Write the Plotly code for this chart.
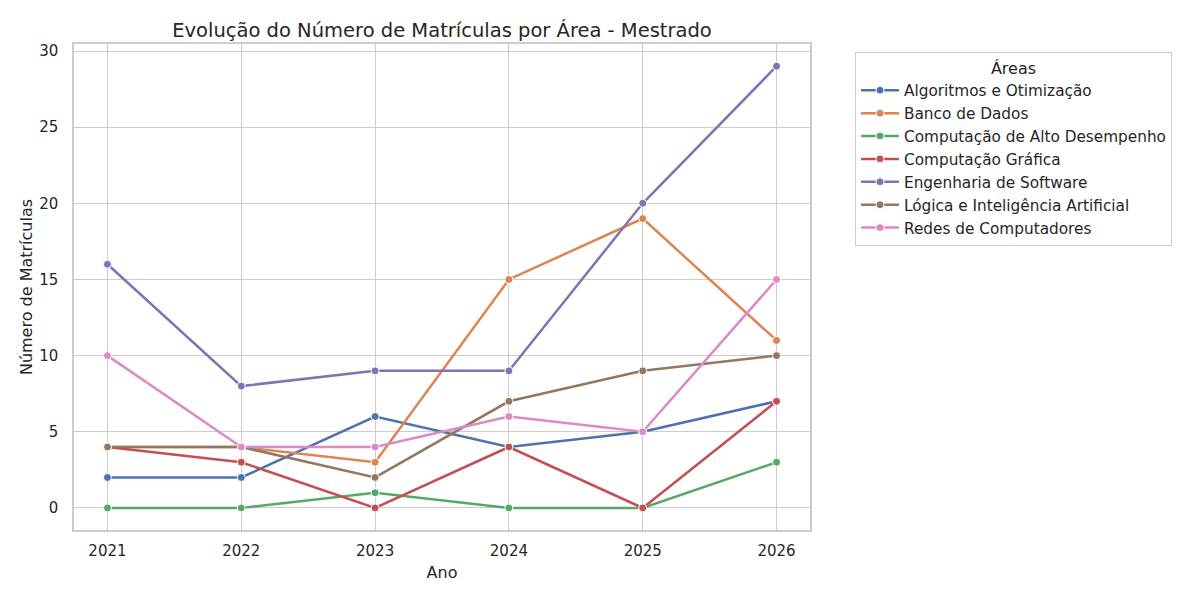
import plotly.graph_objects as go

anos = [2021, 2022, 2023, 2024, 2025, 2026]

areas = [
    "Algoritmos e Otimização",
    "Banco de Dados",
    "Computação de Alto Desempenho",
    "Computação Gráfica",
    "Engenharia de Software",
    "Lógica e Inteligência Artificial",
    "Redes de Computadores",
]

algoritmos = [2, 2, 6, 4, 5, 7]
banco_dados = [4, 4, 3, 15, 19, 11]
alto_desempenho = [0, 0, 1, 0, 0, 3]
comp_grafica = [4, 3, 0, 4, 0, 7]
eng_software = [16, 8, 9, 9, 20, 29]
logica_ia = [4, 4, 2, 7, 9, 10]
redes = [10, 4, 4, 6, 5, 15]

series = [algoritmos, banco_dados, alto_desempenho, comp_grafica,
          eng_software, logica_ia, redes]

# seaborn "deep"
cores = ["#4C72B0", "#DD8452", "#55A868", "#C44E52",
         "#8172B3", "#937860", "#DA8BC3"]

fig = go.Figure()
for nome, valores, cor in zip(areas, series, cores):
    fig.add_trace(
        go.Scatter(
            x=anos,
            y=valores,
            name=nome,
            mode="lines+markers",
            line=dict(color=cor, width=2.5),
            marker=dict(color=cor, size=8, line=dict(color="white", width=1)),
        )
    )

# the page body adds ~8px offset, so positions are shifted back by 8px
fonte = "DejaVu Sans"
fig.update_layout(
    width=1200,
    height=600,
    plot_bgcolor="white",
    paper_bgcolor="white",
    font=dict(family=fonte, color="#262626", size=15),
    margin=dict(l=66, r=398, t=36, b=78, autoexpand=False),
    title=dict(
        text="Evolução do Número de Matrículas por Área - Mestrado",
        x=434 / 1200,
        xref="container",
        xanchor="center",
        y=1 - 22 / 600,
        yanchor="middle",
        font=dict(size=19.5, family=fonte, color="#262626"),
    ),
    legend=dict(
        title=dict(text="Áreas", side="top center", font=dict(size=16)),
        x=847 / 1200,
        xref="container",
        y=1 - 44 / 600,
        yref="container",
        xanchor="left",
        yanchor="top",
        bordercolor="#cccccc",
        borderwidth=1,
        bgcolor="white",
        font=dict(size=15.3),
        itemwidth=38,
        tracegroupgap=0,
    ),
    showlegend=True,
)

fig.update_xaxes(
    title=dict(text="Ano", font=dict(size=16), standoff=8),
    range=[2020.75, 2026.25],
    tickmode="array",
    tickvals=anos,
    ticktext=[str(a) for a in anos],
    showgrid=True,
    gridcolor="#cccccc",
    gridwidth=1,
    showline=True,
    linecolor="#cccccc",
    linewidth=1.5,
    mirror=True,
    zeroline=False,
    ticks="outside",
    tickcolor="white",
    ticklen=6,
)

fig.update_yaxes(
    title=dict(text="Número de Matrículas", font=dict(size=16), standoff=3),
    range=[-1.45, 30.46],
    tickvals=[0, 5, 10, 15, 20, 25, 30],
    showgrid=True,
    gridcolor="#cccccc",
    gridwidth=1,
    showline=True,
    linecolor="#cccccc",
    linewidth=1.5,
    mirror=True,
    zeroline=False,
    ticks="outside",
    tickcolor="white",
    ticklen=11,
)

fig.write_html("out.html")
